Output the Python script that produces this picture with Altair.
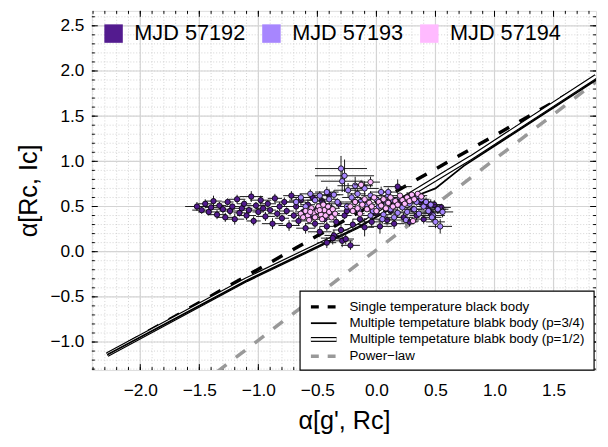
import altair as alt
import pandas as pd

# ---------------- data ----------------
series_names = ["MJD 57192", "MJD 57193", "MJD 57194"]
series_colors = ["#531b8f", "#a786fe", "#ffbaff"]

# (x, y, x_err, y_err)
mjd57192 = [
    (-1.52,0.50,0.10,0.05),(-1.48,0.46,0.08,0.04),(-1.45,0.53,0.06,0.05),(-1.42,0.44,0.09,0.04),
    (-1.40,0.49,0.05,0.03),(-1.38,0.56,0.07,0.06),(-1.35,0.41,0.08,0.05),(-1.33,0.51,0.06,0.04),
    (-1.30,0.47,0.10,0.05),(-1.28,0.38,0.07,0.05),(-1.26,0.55,0.05,0.04),(-1.24,0.45,0.09,0.05),
    (-1.22,0.50,0.06,0.03),(-1.20,0.36,0.08,0.06),(-1.18,0.58,0.07,0.05),(-1.16,0.43,0.05,0.04),
    (-1.14,0.48,0.09,0.05),(-1.12,0.53,0.06,0.04),(-1.10,0.40,0.08,0.05),(-1.08,0.46,0.07,0.04),
    (-1.06,0.61,0.10,0.06),(-1.04,0.34,0.06,0.05),(-1.02,0.51,0.08,0.04),(-1.00,0.44,0.05,0.04),
    (-0.98,0.57,0.09,0.05),(-0.96,0.48,0.06,0.04),(-0.94,0.39,0.08,0.05),(-0.92,0.53,0.07,0.04),
    (-0.90,0.46,0.05,0.03),(-0.88,0.31,0.09,0.06),(-0.86,0.59,0.06,0.05),(-0.84,0.42,0.08,0.04),
    (-0.82,0.50,0.07,0.05),(-0.80,0.37,0.06,0.04),
    (-0.78,0.55,0.08,0.05),(-0.76,0.45,0.06,0.04),(-0.74,0.29,0.09,0.06),(-0.72,0.62,0.07,0.05),
    (-0.70,0.40,0.05,0.04),(-0.68,0.50,0.08,0.05),(-0.66,0.34,0.06,0.05),(-0.64,0.57,0.10,0.06),
    (-0.62,0.44,0.07,0.04),(-0.60,0.26,0.08,0.06),(-0.58,0.52,0.06,0.04),(-0.56,0.38,0.09,0.05),
    (-0.54,0.60,0.07,0.05),(-0.52,0.31,0.08,0.05),(-0.50,0.47,0.06,0.04),(-0.48,0.22,0.10,0.06),
    (-0.46,0.56,0.07,0.05),(-0.44,0.36,0.08,0.04),(-0.42,0.28,0.06,0.05),(-0.40,0.63,0.09,0.06),
    (-0.38,0.42,0.07,0.04),(-0.36,0.18,0.08,0.06),(-0.34,0.33,0.06,0.05),(-0.32,0.53,0.10,0.05),
    (-0.30,0.24,0.07,0.06),(-0.29,0.12,0.09,0.07),(-0.27,0.40,0.06,0.04),
    (-0.42,0.10,0.08,0.06),(-0.37,0.15,0.10,0.07),(-0.26,0.14,0.07,0.06),(-0.22,0.07,0.08,0.05),
    (-0.25,0.45,0.08,0.05),(-0.20,0.30,0.07,0.06),(-0.18,0.55,0.09,0.05),(-0.14,0.36,0.06,0.05),
    (-0.10,0.27,0.08,0.10),(-0.08,0.50,0.07,0.04),(-0.04,0.33,0.09,0.06),(0.00,0.42,0.06,0.05),
    (0.03,0.28,0.10,0.08),(0.06,0.56,0.07,0.05),(0.09,0.35,0.08,0.06),(0.12,0.45,0.06,0.04),
    (0.15,0.31,0.09,0.06),(0.18,0.72,0.12,0.08),(0.20,0.52,0.07,0.05),(0.23,0.38,0.08,0.05),
    (0.26,0.60,0.10,0.06),(0.28,0.33,0.07,0.05),(0.31,0.47,0.08,0.04),(0.34,0.40,0.06,0.05),
    (0.37,0.55,0.09,0.06),(0.40,0.36,0.07,0.05),(0.43,0.50,0.08,0.05),(0.46,0.43,0.10,0.06),
    (0.49,0.52,0.07,0.05),(0.52,0.47,0.09,0.05),(0.55,0.49,0.08,0.04),
]

mjd57193 = [
    (-0.68,0.55,0.08,0.05),(-0.64,0.60,0.07,0.04),(-0.60,0.50,0.06,0.05),(-0.56,0.64,0.09,0.05),
    (-0.52,0.57,0.07,0.04),(-0.48,0.62,0.08,0.05),(-0.45,0.53,0.06,0.04),(-0.42,0.66,0.10,0.06),
    (-0.40,0.58,0.07,0.05),(-0.36,0.63,0.08,0.05),(-0.33,0.55,0.06,0.04),(-0.30,0.92,0.22,0.14),
    (-0.27,0.84,0.25,0.18),(-0.29,0.78,0.18,0.12),(-0.24,0.68,0.12,0.08),(-0.21,0.60,0.08,0.05),
    (-0.18,0.73,0.15,0.10),(-0.16,0.64,0.07,0.05),(-0.13,0.56,0.06,0.04),(-0.10,0.70,0.12,0.08),
    (-0.08,0.52,0.07,0.04),(-0.05,0.62,0.08,0.05),(-0.03,0.45,0.06,0.05),(0.00,0.58,0.07,0.04),
    (0.02,0.50,0.06,0.04),(0.04,0.66,0.09,0.06),(0.06,0.41,0.07,0.05),(0.08,0.55,0.06,0.04),
    (0.10,0.62,0.08,0.05),(0.12,0.47,0.06,0.04),(0.14,0.57,0.07,0.04),(0.16,0.52,0.06,0.04),
    (0.18,0.43,0.08,0.05),(0.20,0.60,0.07,0.05),(0.22,0.49,0.06,0.04),(0.24,0.56,0.07,0.04),
    (0.26,0.44,0.08,0.05),(0.28,0.53,0.06,0.04),(0.30,0.60,0.09,0.06),(0.32,0.47,0.07,0.04),
    (0.34,0.55,0.06,0.04),(0.36,0.42,0.08,0.05),(0.38,0.58,0.07,0.05),(0.40,0.50,0.06,0.04),
    (0.42,0.55,0.08,0.05),(0.44,0.45,0.07,0.05),(0.46,0.52,0.09,0.06),(0.48,0.40,0.10,0.06),
    (0.50,0.33,0.08,0.07),(0.52,0.47,0.07,0.05),(0.54,0.28,0.10,0.08),(0.56,0.44,0.09,0.06),
    (0.47,0.38,0.08,0.05),(-0.55,0.42,0.07,0.04),(-0.50,0.46,0.06,0.04),(-0.38,0.48,0.07,0.05),
    (-0.25,0.50,0.06,0.04),(-0.15,0.46,0.07,0.04),(0.05,0.36,0.08,0.05),(0.15,0.38,0.07,0.05),
    (0.25,0.35,0.08,0.06),(-0.05,0.40,0.07,0.05),(0.35,0.62,0.08,0.05),(0.10,0.66,0.07,0.05),
]

mjd57194 = [
    (-0.64,0.42,0.04,0.03),(-0.62,0.38,0.03,0.02),(-0.60,0.45,0.04,0.03),(-0.58,0.40,0.03,0.03),
    (-0.57,0.35,0.04,0.02),(-0.55,0.48,0.03,0.03),(-0.53,0.43,0.04,0.03),(-0.52,0.38,0.03,0.02),
    (-0.50,0.45,0.04,0.03),(-0.49,0.50,0.03,0.03),(-0.47,0.41,0.04,0.02),(-0.46,0.36,0.03,0.03),
    (-0.44,0.46,0.04,0.03),(-0.43,0.40,0.03,0.02),(-0.41,0.50,0.04,0.03),(-0.40,0.44,0.03,0.03),
    (-0.38,0.38,0.04,0.02),(-0.37,0.47,0.03,0.03),(-0.35,0.42,0.04,0.03),(-0.56,0.44,0.03,0.02),
    (-0.48,0.46,0.04,0.03),(-0.45,0.52,0.03,0.03),
    (-0.22,0.50,0.04,0.03),(-0.20,0.45,0.03,0.02),(-0.18,0.55,0.04,0.03),(-0.16,0.48,0.03,0.03),
    (-0.14,0.42,0.04,0.02),(-0.12,0.52,0.03,0.03),(-0.10,0.58,0.04,0.03),(-0.08,0.47,0.03,0.02),
    (-0.06,0.54,0.04,0.03),(-0.04,0.50,0.03,0.03),(-0.02,0.60,0.04,0.03),(0.00,0.45,0.03,0.02),
    (0.02,0.55,0.04,0.03),(0.04,0.51,0.03,0.03),(0.06,0.58,0.04,0.03),(0.08,0.48,0.03,0.02),
    (0.10,0.54,0.04,0.03),(0.12,0.60,0.03,0.03),(0.14,0.50,0.04,0.03),(0.16,0.56,0.03,0.02),
    (0.18,0.52,0.04,0.03),(0.20,0.62,0.03,0.03),(0.22,0.57,0.04,0.03),(0.24,0.53,0.03,0.02),
    (0.26,0.60,0.04,0.03),(0.28,0.56,0.03,0.03),(0.30,0.63,0.04,0.03),(0.32,0.58,0.03,0.02),
    (0.35,0.64,0.04,0.03),(0.38,0.61,0.03,0.03),(-0.05,0.77,0.08,0.06),(-0.13,0.74,0.06,0.05),
    (0.31,0.34,0.05,0.04),
]

# model curves
single_bb_x = [-2.28, 1.86]
single_bb_y = [-1.14, 1.92]
multi34_x = [-2.28, -1.10, -0.16, 0.30, 0.50, 0.74, 1.86]
multi34_y = [-1.14, -0.32, 0.27, 0.60, 0.70, 0.95, 1.90]
multi12_x = [-2.28, -1.10, -0.16, 0.80, 1.86]
multi12_y = [-1.14, -0.31, 0.28, 1.04, 1.94]
powerlaw_x = [-1.35, 1.90]
powerlaw_y = [-1.33, 1.92]

x_major = [-2.0, -1.5, -1.0, -0.5, 0.0, 0.5, 1.0, 1.5]
y_major = [-1.0, -0.5, 0.0, 0.5, 1.0, 1.5, 2.0, 2.5]
x_minor = [round(-2.4 + 0.1 * i, 1) for i in range(43)]
y_minor = [round(-1.3 + 0.1 * i, 1) for i in range(40)]

legend_labels = ["Single temperature black body",
                 "Multiple tempetature blabk body (p=3/4)",
                 "Multiple tempetature blabk body (p=1/2)",
                 "Power\u2212law"]

# ---------------- layout ----------------
W, H = 511, 364
X_DOM = [-2.41, 1.86]
Y_DOM = [-1.31, 2.665]
FONT = "Liberation Sans"

xs = alt.Scale(domain=X_DOM, nice=False, zero=False)
ys = alt.Scale(domain=Y_DOM, nice=False, zero=False)

AX_X = alt.Axis(
    values=x_major, format=".1f", grid=False, ticks=False, domain=False, tickSize=0,
    labelFont=FONT, labelFontSize=17.5, labelColor="black", labelPadding=12,
    title="\u03b1[g', Rc]", titleFont=FONT, titleFontSize=25.5, titleFontWeight="normal",
    titleColor="black", titleX=W / 2, titleY=51, titleBaseline="middle", titleAlign="center")
AX_Y = alt.Axis(
    values=y_major, format=".1f", grid=False, ticks=False, domain=False, tickSize=0,
    labelFont=FONT, labelFontSize=17.5, labelColor="black", labelPadding=8,
    title="\u03b1[Rc, Ic]", titleFont=FONT, titleFontSize=25.5, titleFontWeight="normal",
    titleColor="black", titleX=-64, titleY=H / 2, titleAngle=-90,
    titleBaseline="middle", titleAlign="center")


def series_df(rows, name):
    df = pd.DataFrame(rows, columns=["x", "y", "ex", "ey"])
    df["series"] = name
    df["x0"] = df.x - df.ex
    df["x1"] = df.x + df.ex
    df["y0"] = df.y - df.ey
    df["y1"] = df.y + df.ey
    return df


def curve_df(xv, yv):
    return pd.DataFrame({"x": xv, "y": yv, "o": list(range(len(xv)))})


X = lambda f="x": alt.X(f"{f}:Q", scale=xs, axis=AX_X)
Y = lambda f="y": alt.Y(f"{f}:Q", scale=ys, axis=AX_Y)

layers = []

# grid
gx_minor = pd.DataFrame({"x": x_minor})
gy_minor = pd.DataFrame({"y": y_minor})
gx_major = pd.DataFrame({"x": x_major})
gy_major = pd.DataFrame({"y": y_major})
layers.append(alt.Chart(gx_minor).mark_rule(color="#c8c8c8", strokeWidth=0.8, strokeDash=[1, 2]).encode(x=X()))
layers.append(alt.Chart(gy_minor).mark_rule(color="#c8c8c8", strokeWidth=0.8, strokeDash=[1, 2]).encode(y=Y()))
layers.append(alt.Chart(gx_major).mark_rule(color="#d4d4d4", strokeWidth=1.2).encode(x=X()))
layers.append(alt.Chart(gy_major).mark_rule(color="#d4d4d4", strokeWidth=1.2).encode(y=Y()))

# ticks (inward, all four sides)
for df, ln in ((gx_minor, 3), (gx_major, 6)):
    layers.append(alt.Chart(df).mark_rule(color="black", strokeWidth=1).encode(
        x=X(), y=alt.value(H), y2=alt.value(H - ln)))
    layers.append(alt.Chart(df).mark_rule(color="black", strokeWidth=1).encode(
        x=X(), y=alt.value(0), y2=alt.value(ln)))
for df, ln in ((gy_minor, 3), (gy_major, 6)):
    layers.append(alt.Chart(df).mark_rule(color="black", strokeWidth=1).encode(
        y=Y(), x=alt.value(0), x2=alt.value(ln)))
    layers.append(alt.Chart(df).mark_rule(color="black", strokeWidth=1).encode(
        y=Y(), x=alt.value(W), x2=alt.value(W - ln)))

# model curves
def curve(xv, yv, **kw):
    return alt.Chart(curve_df(xv, yv)).mark_line(clip=True, **kw).encode(
        x=X(), y=Y(), order="o:O")

layers.append(curve(powerlaw_x, powerlaw_y, color="#999999", strokeWidth=3.5, strokeDash=[12, 12]))
layers.append(curve(single_bb_x, single_bb_y, color="black", strokeWidth=3.5, strokeDash=[12, 12]))
layers.append(curve(multi12_x, multi12_y, color="black", strokeWidth=5))
layers.append(curve(multi12_x, multi12_y, color="white", strokeWidth=2.6))
layers.append(curve(multi34_x, multi34_y, color="black", strokeWidth=1.8))

# data with error bars
color_scale = alt.Scale(domain=series_names, range=series_colors)
for i, (rows, name) in enumerate(((mjd57192, series_names[0]),
                                  (mjd57193, series_names[1]),
                                  (mjd57194, series_names[2]))):
    df = series_df(rows, name)
    base = alt.Chart(df)
    layers.append(base.mark_rule(color="#1a1a1a", strokeWidth=1).encode(
        x=X("x0"), x2="x1:Q", y=Y()))
    layers.append(base.mark_rule(color="#1a1a1a", strokeWidth=1).encode(
        x=X(), y=Y("y0"), y2="y1:Q"))
    leg = alt.Legend(
        title=None, orient="none", legendX=11, legendY=12, direction="horizontal",
        symbolType="square", symbolSize=350, symbolStrokeWidth=0, symbolOpacity=1,
        labelFontSize=22, labelFont=FONT, labelColor="black", labelOffset=10,
        columnPadding=15, padding=0, labelLimit=300,
    ) if i == 0 else None
    layers.append(base.mark_point(filled=True, shape="circle", size=30, opacity=1,
                                  stroke="black", strokeWidth=0.8).encode(
        x=X(), y=Y(),
        fill=alt.Fill("series:N", scale=color_scale, legend=leg)))

# line-style legend (manual box)
one = pd.DataFrame({"a": [0]})
BX0, BY0, BX1, BY1 = 211, 284, 509, 364
layers.append(alt.Chart(one).mark_rect(fill="white", stroke="black", strokeWidth=1.2).encode(
    x=alt.value(BX0), x2=alt.value(BX1), y=alt.value(BY0), y2=alt.value(BY1)))
row_y = [BY0 + 16, BY0 + 32.5, BY0 + 49, BY0 + 66]
SX0, SX1, TX = BX0 + 11, BX0 + 37, BX0 + 50
layers.append(alt.Chart(one).mark_rule(color="black", strokeWidth=3.5, strokeDash=[8, 9]).encode(
    x=alt.value(SX0), x2=alt.value(SX1), y=alt.value(row_y[0])))
layers.append(alt.Chart(one).mark_rule(color="black", strokeWidth=1.8).encode(
    x=alt.value(SX0), x2=alt.value(SX1), y=alt.value(row_y[1])))
layers.append(alt.Chart(one).mark_rule(color="black", strokeWidth=5).encode(
    x=alt.value(SX0), x2=alt.value(SX1), y=alt.value(row_y[2])))
layers.append(alt.Chart(one).mark_rule(color="white", strokeWidth=2.6).encode(
    x=alt.value(SX0), x2=alt.value(SX1), y=alt.value(row_y[2])))
layers.append(alt.Chart(one).mark_rule(color="#999999", strokeWidth=3.5, strokeDash=[8, 9]).encode(
    x=alt.value(SX0), x2=alt.value(SX1), y=alt.value(row_y[3])))
for lbl, yy in zip(legend_labels, row_y):
    layers.append(alt.Chart(one).mark_text(align="left", baseline="middle", font=FONT,
                                           fontSize=13.5, color="black").encode(
        x=alt.value(TX), y=alt.value(yy), text=alt.value(lbl)))

chart = alt.layer(*layers).properties(
    width=W, height=H,
    autosize=alt.AutoSizeParams(type="none"),
    padding={"left": 85, "top": 0, "right": 4, "bottom": 70},
).configure_view(stroke="black", strokeWidth=1.2).configure(background="white")

chart.save("out.html", embed_options={"renderer": "svg", "actions": False})
